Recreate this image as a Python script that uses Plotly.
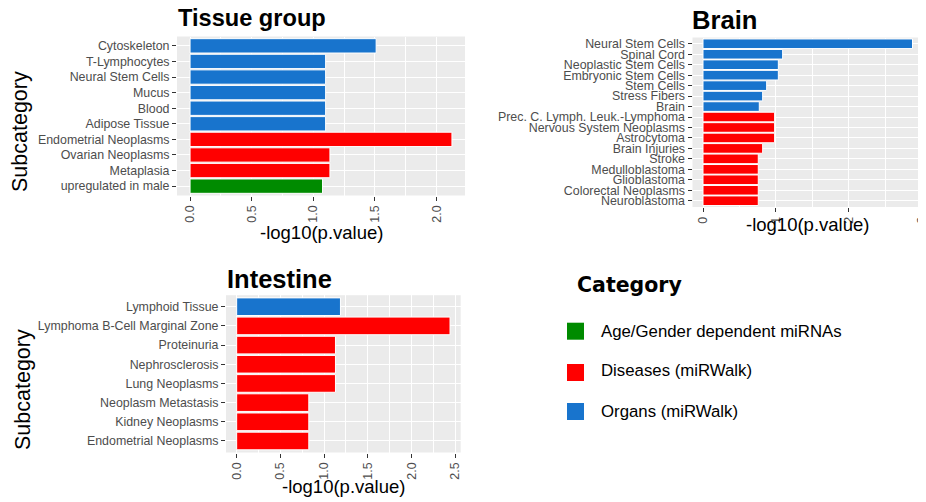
import plotly.graph_objects as go

W, H = 926, 502
OFF = 8  # page body margin of the html page

# ---------------- data ----------------
tissue_labels = ["Cytoskeleton", "T-Lymphocytes", "Neural Stem Cells", "Mucus", "Blood",
                 "Adipose Tissue", "Endometrial Neoplasms", "Ovarian Neoplasms", "Metaplasia",
                 "upregulated in male"]
tissue_values = [1.51, 1.10, 1.10, 1.10, 1.10, 1.10, 2.125, 1.135, 1.135, 1.075]
tissue_groups = ["Organs", "Organs", "Organs", "Organs", "Organs", "Organs",
                 "Diseases", "Diseases", "Diseases", "Age"]

brain_labels = ["Neural Stem Cells", "Spinal Cord", "Neoplastic Stem Cells", "Embryonic Stem Cells",
                "Stem Cells", "Stress Fibers", "Brain", "Prec. C. Lymph. Leuk.-Lymphoma",
                "Nervous System Neoplasms", "Astrocytoma", "Brain Injuries", "Stroke",
                "Medulloblastoma", "Glioblastoma", "Colorectal Neoplasms", "Neuroblastoma"]
brain_values = [2.873, 1.092, 1.033, 1.033, 0.873, 0.818, 0.772, 0.982,
                0.982, 0.982, 0.818, 0.758, 0.758, 0.758, 0.758, 0.758]
brain_groups = ["Organs"] * 7 + ["Diseases"] * 9

intestine_labels = ["Lymphoid Tissue", "Lymphoma B-Cell Marginal Zone", "Proteinuria",
                    "Nephrosclerosis", "Lung Neoplasms", "Neoplasm Metastasis",
                    "Kidney Neoplasms", "Endometrial Neoplasms"]
intestine_values = [1.187, 2.44, 1.13, 1.13, 1.13, 0.825, 0.825, 0.825]
intestine_groups = ["Organs"] + ["Diseases"] * 7

legend_keys = ["Age", "Diseases", "Organs"]
legend_labels = ["Age/Gender dependent miRNAs", "Diseases (miRWalk)", "Organs (miRWalk)"]
colors = {"Age": "#008B00", "Diseases": "#FF0000", "Organs": "#1874CD"}

# ---------------- helpers ----------------
def px_x(v):
    return (v - OFF) / W

def px_y(v):
    return 1 - (v - OFF) / H

REG = "Liberation Sans, Arial"
TICKCOL = "#4D4D4D"

fig = go.Figure()

panels = [
    (tissue_labels, tissue_values, tissue_groups, "x", "y"),
    (brain_labels, brain_values, brain_groups, "x2", "y2"),
    (intestine_labels, intestine_values, intestine_groups, "x3", "y3"),
]
for labels, values, groups, xa, ya in panels:
    fig.add_trace(go.Bar(
        x=values, y=labels, orientation="h",
        marker=dict(color=[colors[g] for g in groups], line=dict(color="white", width=1)),
        xaxis=xa, yaxis=ya, showlegend=False, width=0.92,
    ))

def xaxis_cfg(domain, rng, dtick, fmt):
    return dict(
        domain=domain, range=rng, dtick=dtick, tick0=0, tickformat=fmt,
        showgrid=True, gridcolor="white", gridwidth=1.1, zeroline=False,
        minor=dict(dtick=dtick / 2, tick0=0, showgrid=True, gridcolor="white", gridwidth=0.5),
        ticks="outside", ticklen=4, tickcolor="#333333", tickwidth=1,
        tickangle=-90, tickfont=dict(family=REG, size=12.4, color=TICKCOL),
        showline=False, fixedrange=True, automargin=False,
    )

def yaxis_cfg(domain, labels):
    n = len(labels)
    return dict(
        domain=domain, type="category", categoryorder="array", categoryarray=labels,
        tickmode="array", tickvals=labels, ticktext=labels,
        range=[n - 1 + 0.6, -0.6],
        showgrid=True, gridcolor="white", gridwidth=1.1, zeroline=False,
        ticks="outside", ticklen=4, tickcolor="#333333", tickwidth=1,
        tickfont=dict(family=REG, size=12.4, color=TICKCOL),
        showline=False, fixedrange=True, automargin=False,
    )

fig.update_layout(
    width=W, height=H, margin=dict(l=0, r=0, t=0, b=0, pad=0, autoexpand=False),
    paper_bgcolor="white", plot_bgcolor="#EBEBEB",
    bargap=0.08,
    font=dict(family=REG),
    xaxis=dict(xaxis_cfg([px_x(177), px_x(465)], [-0.106, 2.231], 0.5, ".1f"), anchor="y"),
    yaxis=dict(yaxis_cfg([px_y(195.5), px_y(36.5)], tissue_labels), anchor="x"),
    xaxis2=dict(xaxis_cfg([px_x(692.5), px_x(923)], [-0.144, 3.017], 1, "d"), anchor="y2"),
    yaxis2=dict(yaxis_cfg([px_y(207), px_y(37.5)], brain_labels), anchor="x2"),
    xaxis3=dict(xaxis_cfg([px_x(226), px_x(460.7)], [-0.122, 2.562], 0.5, ".1f"), anchor="y3"),
    yaxis3=dict(yaxis_cfg([px_y(452.5), px_y(295.2)], intestine_labels), anchor="x3"),
)

ann = []
def add_text(text, x, y, font, xanchor="center", yanchor="middle", angle=0):
    ann.append(dict(text=text, x=px_x(x), y=px_y(y), xref="paper", yref="paper",
                    xanchor=xanchor, yanchor=yanchor, showarrow=False, font=font,
                    textangle=angle))

add_text("<b>Tissue group</b>", 176, 18.5, dict(family=REG, size=23.6, color="black"), xanchor="left")
add_text("<b>Brain</b>", 690, 20, dict(family=REG, size=25.6, color="black"), xanchor="left")
add_text("<b>Intestine</b>", 224.5, 278.5, dict(family=REG, size=25.5, color="black"), xanchor="left")

xt_font = dict(family=REG, size=18.5, color="black")
add_text("-log10(p.value)", 321, 232, xt_font)
add_text("-log10(p.value)", 807.5, 224, xt_font)
add_text("-log10(p.value)", 343, 486, xt_font)

yt_font = dict(family=REG, size=21.5, color="black")
add_text("Subcategory", 20, 132, yt_font, angle=-90)
add_text("Subcategory", 23, 390, yt_font, angle=-90)

# legend (manual)
add_text("<b>Category</b>", 575, 285, dict(family="DejaVu Sans", size=20.5, color="black"),
         xanchor="left")
key_tops = [322.7, 364, 403]
label_y = [331.7, 370.5, 411.5]
shapes = []
for k, lab, top, ly in zip(legend_keys, legend_labels, key_tops, label_y):
    shapes.append(dict(type="rect", xref="paper", yref="paper",
                       x0=px_x(567), x1=px_x(584), y0=px_y(top + 17), y1=px_y(top),
                       fillcolor=colors[k], line=dict(width=0)))
    add_text(lab, 599, ly, dict(family=REG, size=16.8, color="black"), xanchor="left")

fig.update_layout(annotations=ann, shapes=shapes)

fig.write_html("out.html")
